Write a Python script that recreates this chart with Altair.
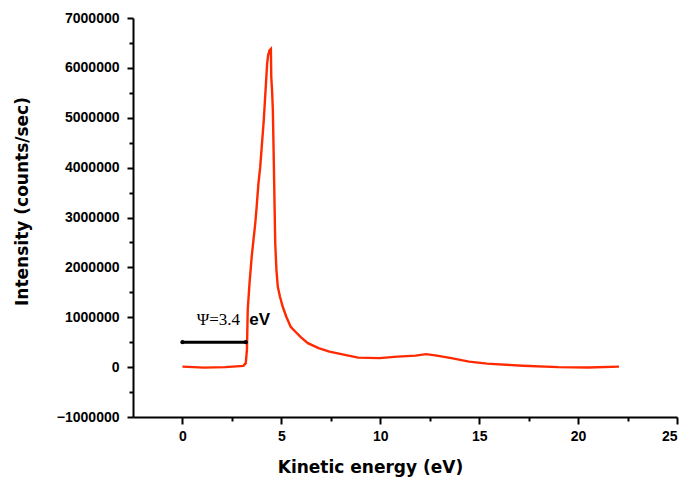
import altair as alt
import pandas as pd

# Spectrum (kinetic energy in eV, intensity in counts/sec)
energy = [0.0, 1.09, 2.17, 3.08, 3.2, 3.26, 3.30, 3.39, 3.5, 3.59, 3.68, 3.75, 3.84, 3.93,
          4.02, 4.11, 4.18, 4.28, 4.33, 4.40, 4.47, 4.49, 4.53, 4.57, 4.62, 4.66, 4.69,
          4.75, 4.82, 4.93, 5.07, 5.25, 5.47, 5.71, 5.98, 6.34, 6.88, 7.43, 8.15, 8.88,
          9.96, 10.87, 11.78, 12.32, 12.86, 13.59, 14.49, 15.4, 17.21, 19.0, 20.5, 22.07]
intensity = [10000, -10000, 0, 25000, 80000, 350000, 1150000, 1680000, 2210000, 2550000,
             2880000, 3210000, 3680000, 4010000, 4480000, 4950000, 5410000, 6080000,
             6250000, 6350000, 6380000, 5810000, 5550000, 5150000, 4080000, 3150000,
             2480000, 1950000, 1610000, 1410000, 1210000, 1010000, 810000, 710000, 600000,
             480000, 380000, 310000, 250000, 190000, 180000, 210000, 230000, 260000,
             230000, 180000, 110000, 70000, 27000, 0, -7000, 10000]

arrow_x = [0.0, 3.2]
arrow_y = [500000, 500000]
label_psi = "Ψ=3.4"
label_ev = "eV"
label_pos = [(0.72, 950000), (3.38, 950000)]

x_major = [0, 5, 10, 15, 20, 25]
x_minor = [2.5, 7.5, 12.5, 17.5, 22.5]
y_major = [-1000000, 0, 1000000, 2000000, 3000000, 4000000, 5000000, 6000000, 7000000]
y_minor = [-500000, 500000, 1500000, 2500000, 3500000, 4500000, 5500000, 6500000]

df = pd.DataFrame({"x": energy, "y": intensity})
arrow_df = pd.DataFrame({"x": arrow_x, "y": arrow_y})
psi_df = pd.DataFrame({"x": [label_pos[0][0]], "y": [label_pos[0][1]], "t": [label_psi]})
ev_df = pd.DataFrame({"x": [label_pos[1][0]], "y": [label_pos[1][1]], "t": [label_ev]})

xscale = alt.Scale(domain=[-2.5, 25], nice=False, zero=False)
yscale = alt.Scale(domain=[-1000000, 7000000], nice=False)

FONT = "Liberation Sans"
TFONT = "DejaVu Sans"

x_axis = alt.Axis(orient="bottom", values=x_major, title="Kinetic energy (eV)", grid=False,
                  domainColor="black", domainWidth=2, tickColor="black", tickWidth=2,
                  tickSize=7, labelPadding=5, labelFont=FONT, labelFontSize=14,
                  labelFontWeight="bold", labelColor="black",
                  titleFont=TFONT, titleFontSize=17, titleFontWeight="bold",
                  titleColor="black", titleX=237, titleY=50, titleBaseline="middle",
                  titleAnchor="start", titleAlign="center")
y_axis = alt.Axis(orient="left", values=y_major, format="d", title="Intensity (counts/sec)",
                  grid=False,
                  domainColor="black", domainWidth=2, tickColor="black", tickWidth=2,
                  tickSize=6, labelPadding=8, labelFont=FONT, labelFontSize=14,
                  labelFontWeight="bold", labelColor="black",
                  titleFont=TFONT, titleFontSize=17, titleFontWeight="bold",
                  titleColor="black", titleX=-111, titleY=183, titleAngle=-90,
                  titleBaseline="middle", titleAlign="center", titleAnchor="start")

x_axis_minor = alt.Axis(orient="bottom", values=x_minor, labels=False, title=None,
                        grid=False, domain=False, tickColor="black", tickWidth=2, tickSize=4)
y_axis_minor = alt.Axis(orient="left", values=y_minor, labels=False, title=None,
                        grid=False, domain=False, tickColor="black", tickWidth=2, tickSize=4)

line = alt.Chart(df).mark_line(color="#ff2a00", strokeWidth=2.4).encode(
    x=alt.X("x:Q", scale=xscale, axis=x_axis),
    y=alt.Y("y:Q", scale=yscale, axis=y_axis),
    order="x:Q",
)

minor = alt.Chart(df).mark_point(opacity=0).encode(
    x=alt.X("x:Q", scale=xscale, axis=x_axis_minor),
    y=alt.Y("y:Q", scale=yscale, axis=y_axis_minor),
)

arrow = alt.Chart(arrow_df).mark_line(color="black", strokeWidth=3).encode(
    x=alt.X("x:Q", scale=xscale, axis=None), y=alt.Y("y:Q", scale=yscale, axis=None)
)
arrow_ends = alt.Chart(arrow_df).mark_point(color="black", filled=True, size=18,
                                             shape="circle", opacity=1).encode(
    x=alt.X("x:Q", scale=xscale, axis=None), y=alt.Y("y:Q", scale=yscale, axis=None)
)

psi = alt.Chart(psi_df).mark_text(font="Liberation Serif", fontSize=17, align="left",
                                  baseline="middle", color="black").encode(
    x=alt.X("x:Q", scale=xscale, axis=None), y=alt.Y("y:Q", scale=yscale, axis=None),
    text="t:N"
)
ev = alt.Chart(ev_df).mark_text(font=FONT, fontSize=17, fontWeight="bold", align="left",
                                baseline="middle", color="black").encode(
    x=alt.X("x:Q", scale=xscale, axis=None), y=alt.Y("y:Q", scale=yscale, axis=None),
    text="t:N"
)

chart = alt.layer(line, minor, arrow, arrow_ends, psi, ev).resolve_axis(
    x="independent", y="independent"
).properties(
    width=544, height=399,
    autosize=alt.AutoSizeParams(type="none"),
    padding={"left": 125, "top": 10, "right": 2, "bottom": 62},
    background="white",
).configure_view(stroke=None)

chart.save("out.html", embed_options={"renderer": "svg", "actions": False})
